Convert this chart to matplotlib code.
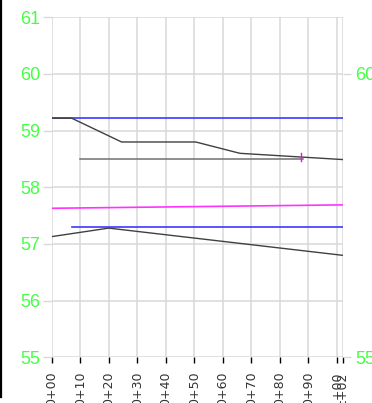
import matplotlib
matplotlib.use("Agg")
import matplotlib.pyplot as plt
from matplotlib.lines import Line2D

# stations (m) and tick labels
stations = [0, 10, 20, 30, 40, 50, 60, 70, 80, 90, 100, 102]
station_labels = ["0+00", "0+10", "0+20", "0+30", "0+40", "0+50", "0+60",
                  "0+70", "0+80", "0+90", "1+00", "1+02"]
elev_ticks = [55, 56, 57, 58, 59, 60, 61]
right_ticks = [55, 60]

# upper profile
upper_x = [0, 7, 24.5, 50.5, 66, 102]
upper_y = [59.22, 59.22, 58.80, 58.80, 58.60, 58.49]
blue_upper_x = [0, 102]
blue_upper_y = [59.22, 59.22]
gray_x = [10, 88]
gray_y = [58.50, 58.50]
mark_x = [87.5, 87.5]
mark_y = [58.47, 58.61]

# middle / lower profile
magenta_x = [0, 102]
magenta_y = [57.63, 57.69]
blue_lower_x = [7, 102]
blue_lower_y = [57.30, 57.30]
lower_x = [0, 20, 102]
lower_y = [57.13, 57.28, 56.80]

green = "#44ff44"
grid_c = "#d9d9d9"

fig = plt.figure(figsize=(3.72, 4.03), dpi=100)
ax = fig.add_axes([0.139, 0.1134, 0.782, 0.8436])

ax.plot(blue_upper_x, blue_upper_y, color="#3a3aff", lw=1.2)
ax.plot(upper_x, upper_y, color="#404040", lw=1.0)
ax.plot(gray_x, gray_y, color="#707070", lw=1.1)
ax.plot(mark_x, mark_y, color="#ff00ff", lw=1.0)
ax.plot(magenta_x, magenta_y, color="#ff33ff", lw=1.2)
ax.plot(blue_lower_x, blue_lower_y, color="#3a3aff", lw=1.2)
ax.plot(lower_x, lower_y, color="#404040", lw=1.0)

ax.set_xlim(0, 102)
ax.set_ylim(55, 61)
for s in ax.spines.values():
    s.set_visible(False)

ax.set_xticks(stations)
ax.set_xticklabels(station_labels, rotation=90, va="top", fontsize=9,
                   color="#333333")
ax.tick_params(axis="x", direction="out", length=4, width=1,
               color="black", pad=6)
ax.set_yticks(elev_ticks)
ax.set_yticklabels([str(v) for v in elev_ticks], fontsize=13,
                   color=green, family="Liberation Sans")
ax.tick_params(axis="y", direction="out", length=6.5, width=1,
               color=grid_c, pad=1.5)
ax.grid(True, color=grid_c, lw=1.1)
ax.set_axisbelow(True)

ax2 = ax.twinx()
ax2.set_ylim(55, 61)
for s in ax2.spines.values():
    s.set_visible(False)
ax2.set_yticks(right_ticks)
ax2.set_yticklabels([str(v) for v in right_ticks], fontsize=13,
                    color=green, family="Liberation Sans")
ax2.tick_params(axis="y", direction="out", length=6, width=1,
                color=grid_c, pad=3)

# dark frame edge on the left
fig.add_artist(Line2D([0.003, 0.003], [0.015, 1.0], color="black", lw=1.6,
                      transform=fig.transFigure))

fig.savefig("out.png", dpi=100)
